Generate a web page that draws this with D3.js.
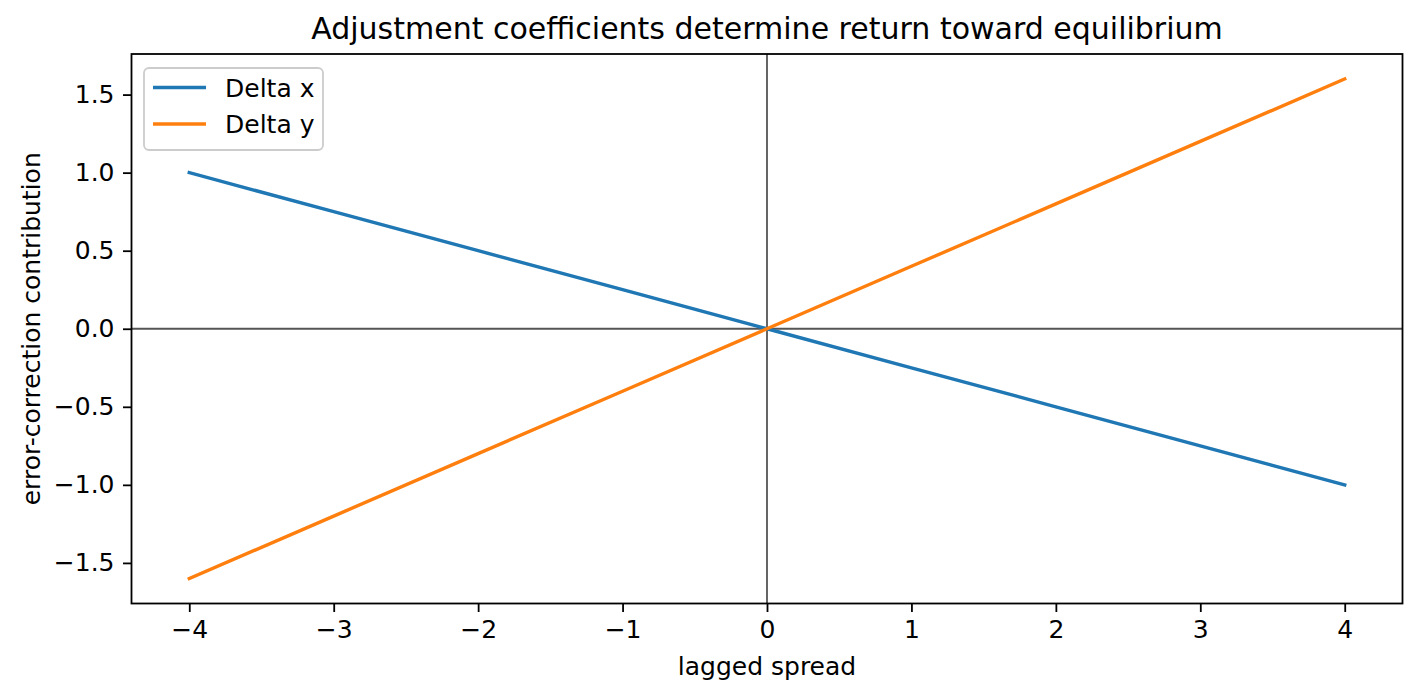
<!DOCTYPE html>
<html>
<head>
<meta charset="utf-8">
<script src="https://cdn.jsdelivr.net/npm/d3@7"></script>
<style>
  body { margin: 0; background: #fff; }
  svg { font-family: "DejaVu Sans", sans-serif; }
</style>
</head>
<body>
<svg width="1421" height="700"></svg>
<script>
// lagged spread values and each series' error-correction contribution
const spread = [-4, -3, -2, -1, 0, 1, 2, 3, 4];
const deltaX = [1.0, 0.75, 0.5, 0.25, 0.0, -0.25, -0.5, -0.75, -1.0];
const deltaY = [-1.6, -1.2, -0.8, -0.4, 0.0, 0.4, 0.8, 1.2, 1.6];
const seriesNames = ["Delta x", "Delta y"];
const seriesColors = ["#1f77b4", "#ff7f0e"];
const xTicks = [-4, -3, -2, -1, 0, 1, 2, 3, 4];
const yTicks = [-1.5, -1.0, -0.5, 0.0, 0.5, 1.0, 1.5];

const plotLeft = 131.5, plotRight = 1402.5, plotTop = 54, plotBottom = 603.5;

const svg = d3.select("svg");

const x = d3.scaleLinear().domain([-4.4, 4.4]).range([plotLeft, plotRight]);
const y = d3.scaleLinear().domain([-1.76, 1.76]).range([plotBottom, plotTop]);

const fmtMinus = s => s.replace("-", "\u2212");

// reference lines at zero
svg.append("line")
    .attr("x1", plotLeft).attr("x2", plotRight)
    .attr("y1", y(0)).attr("y2", y(0))
    .attr("stroke", "#555").attr("stroke-width", 1.8);
svg.append("line")
    .attr("x1", x(0)).attr("x2", x(0))
    .attr("y1", plotTop).attr("y2", plotBottom)
    .attr("stroke", "#555").attr("stroke-width", 1.8);

const series = [deltaX, deltaY];
const line = d3.line()
    .x((d, i) => x(spread[i]))
    .y(d => y(d));

svg.selectAll(".series")
    .data(series)
    .enter().append("path")
    .attr("class", "series")
    .attr("d", d => line(d))
    .attr("fill", "none")
    .attr("stroke", (d, i) => seriesColors[i])
    .attr("stroke-width", 3.4)
    .attr("stroke-linecap", "square");

// axes
const xAxis = svg.append("g")
    .attr("transform", `translate(0,${plotBottom})`)
    .call(d3.axisBottom(x).tickValues(xTicks).tickSize(8.5).tickPadding(8.5)
        .tickFormat(d => fmtMinus(d3.format("d")(d))));
const yAxis = svg.append("g")
    .attr("transform", `translate(${plotLeft},0)`)
    .call(d3.axisLeft(y).tickValues(yTicks).tickSize(8.5).tickPadding(8.5)
        .tickFormat(d => fmtMinus(d3.format(".1f")(d))));

[xAxis, yAxis].forEach(g => {
    g.select(".domain").remove();
    g.selectAll(".tick line").attr("stroke", "#000").attr("stroke-width", 1.8);
    g.selectAll(".tick text")
        .attr("fill", "#000")
        .style("font-family", "DejaVu Sans")
        .style("font-size", "25px");
});

// frame
svg.append("rect")
    .attr("x", plotLeft).attr("y", plotTop)
    .attr("width", plotRight - plotLeft).attr("height", plotBottom - plotTop)
    .attr("fill", "none").attr("stroke", "#000").attr("stroke-width", 1.8);

// labels
svg.append("text")
    .attr("x", (plotLeft + plotRight) / 2).attr("y", 39)
    .attr("text-anchor", "middle")
    .style("font-size", "30px")
    .text("Adjustment coefficients determine return toward equilibrium");

svg.append("text")
    .attr("x", (plotLeft + plotRight) / 2).attr("y", 675)
    .attr("text-anchor", "middle")
    .style("font-size", "25px")
    .text("lagged spread");

svg.append("text")
    .attr("transform", `translate(40,${(plotTop + plotBottom) / 2}) rotate(-90)`)
    .attr("text-anchor", "middle")
    .style("font-size", "25px")
    .text("error-correction contribution");

// legend
const legend = svg.append("g");
legend.append("rect")
    .attr("x", 144).attr("y", 68)
    .attr("width", 179).attr("height", 82)
    .attr("rx", 5)
    .attr("fill", "#fff").attr("fill-opacity", 0.8)
    .attr("stroke", "#ccc").attr("stroke-width", 1.8);

const item = legend.selectAll(".item")
    .data(seriesNames)
    .enter().append("g")
    .attr("class", "item")
    .attr("transform", (d, i) => `translate(0,${87.5 + i * 36.5})`);
item.append("line")
    .attr("x1", 153).attr("x2", 206)
    .attr("stroke", (d, i) => seriesColors[i])
    .attr("stroke-width", 3.4);
item.append("text")
    .attr("x", 225).attr("y", 9)
    .style("font-size", "25px")
    .text(d => d);
</script>
</body>
</html>
